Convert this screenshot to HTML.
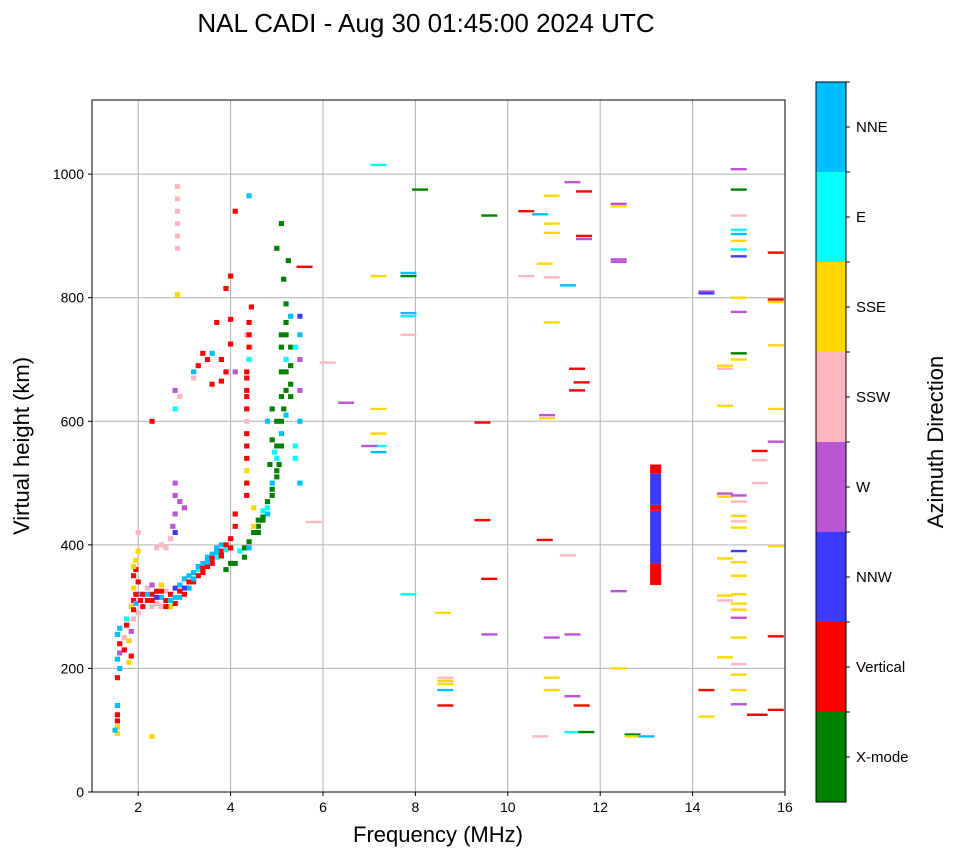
<!DOCTYPE html>
<html><head><meta charset="utf-8"><style>
body{margin:0;background:#fff;}
svg{display:block;font-family:"Liberation Sans","DejaVu Sans",sans-serif;}
</style></head><body>
<svg id="chart" width="958" height="857" viewBox="0 0 958 857">
<text x="426" y="32" font-size="26" text-anchor="middle">NAL CADI - Aug 30 01:45:00 2024 UTC</text>
<g id="grid"></g>
<g id="marks"></g>
<rect x="92" y="100" width="693" height="692" fill="none" stroke="#000" stroke-width="1"/>
<g id="axes"></g>
<text x="438" y="842" font-size="22" text-anchor="middle">Frequency (MHz)</text>
<text transform="translate(29,446) rotate(-90)" font-size="22" text-anchor="middle">Virtual height (km)</text>
<g id="cbar"></g>
<text transform="translate(943,442) rotate(-90)" font-size="22" text-anchor="middle">Azimuth Direction</text>
</svg>
<script>
const xTicks=[2,4,6,8,10,12,14,16];
const yTicks=[0,200,400,600,800,1000];
const dirNames=["X-mode","Vertical","NNW","W","SSW","SSE","E","NNE"];
const dirColors=["#008000","#ff0000","#3b3bff","#ba55d3","#ffb6c1","#ffd700","#00ffff","#00bfff"];
// main trace cells [freq, height, dir]
const cells=[[1.55,95,5],[1.55,105,5],[1.55,115,1],[1.55,125,1],[1.55,140,7],[1.5,100,7],[1.55,185,1],[1.6,200,7],[1.55,215,7],[1.6,225,3],[1.6,240,1],[1.55,255,7],[1.6,265,7],[1.7,230,1],[1.7,250,4],[1.75,270,1],[1.75,280,6],[1.8,210,5],[1.8,245,5],[1.85,220,1],[1.85,260,3],[1.85,300,5],[1.9,310,1],[1.9,330,5],[1.9,350,1],[1.95,360,1],[1.95,375,5],[1.9,280,4],[2.0,290,4],[2.0,320,7],[2.0,340,1],[2.0,390,5],[2.0,420,4],[1.9,295,1],[1.95,320,1],[1.95,305,7],[2.05,310,1],[1.9,365,5],
[2.1,300,1],[2.1,320,1],[2.2,310,1],[2.2,330,4],[2.3,300,4],[2.3,320,1],[2.3,335,3],[2.4,305,4],[2.4,325,1],[2.5,300,4],[2.5,315,7],[2.5,335,5],[2.6,310,1],[2.6,325,4],[2.7,300,5],[2.7,320,1],[2.8,305,1],[2.8,330,2],[2.9,315,7],[2.9,335,7],[3.0,320,1],[3.0,345,7],[3.1,330,7],[3.1,340,1],[3.2,340,1],[3.2,355,7],[3.3,350,1],[3.3,360,6],[3.4,355,1],[3.4,370,7],[3.5,365,1],[3.5,380,7],[3.6,370,1],[3.6,385,7],[3.7,380,6],[3.7,395,7],[3.8,390,1],[3.8,400,7],[3.9,360,0],[3.9,400,1],[4.0,370,0],[4.0,410,1],[4.1,430,1],[4.1,450,1],[4.2,390,6],[4.3,395,0],[4.4,405,0],[4.5,420,0],[4.6,430,0],[4.7,440,0],[4.8,460,6],[4.8,450,7],[4.9,480,0],[4.9,500,7],[5.0,520,0],[5.0,540,6],[5.1,560,0],[5.1,580,7],[5.1,600,0],[5.15,620,0],[5.2,650,0],[5.2,680,0],[5.2,700,6],[5.1,720,0],[5.1,740,0],[5.2,760,0],[5.2,790,0],[5.3,640,0],[5.3,720,0],[5.3,770,7],[5.4,720,6],[5.5,770,2],[5.5,740,7],[5.5,700,3],[5.5,650,3],[5.5,600,7],[5.4,540,6],[5.5,500,7],[5.4,560,6],[5.0,880,0],[5.1,920,0],[5.25,860,0],[5.15,830,0],[4.9,570,0],[4.8,600,7],[4.9,620,0],[4.5,460,5],
[2.2,320,7],[2.3,310,1],[2.4,315,2],[2.5,325,1],[2.6,300,1],[2.7,310,7],[2.8,315,7],[2.9,325,1],[3.0,330,2],[3.1,350,7],[3.2,345,7],[3.3,365,7],[3.4,362,1],[3.5,372,7],[3.6,378,1],[3.7,388,7],[3.8,382,1],[3.9,392,6],[4.0,395,1],[4.1,370,0],[4.3,380,0],[4.4,395,7],[4.5,430,5],[4.6,440,0],[4.7,445,0],[4.8,470,0],[4.9,490,0],[5.0,510,0],[5.05,530,0],[5.0,560,0],[5.1,640,0],[5.1,680,0],[5.2,610,7],[5.2,740,0],[5.3,690,0],[5.3,660,0],[5.0,600,0],[4.95,550,6],[4.85,530,0],[4.7,455,6],[4.6,420,0],
[4.35,480,1],[4.35,540,1],[4.35,580,1],[4.35,620,1],[4.35,650,1],[4.35,680,1],[4.4,720,1],[4.4,760,1],[4.45,785,1],[4.35,520,5],[4.35,600,4],[4.4,700,6],[4.35,740,4],[4.35,500,1],[4.35,560,1],[4.35,640,1],[4.35,670,1],[4.4,740,1],
[3.3,690,1],[3.5,700,1],[3.6,660,1],[3.6,710,7],[3.4,710,1],[3.8,700,1],[3.8,665,1],[3.9,680,1],[4.0,765,1],[4.0,835,1],[3.9,815,1],[4.1,940,1],[4.0,725,1],[3.7,760,1],[3.2,680,7],[3.2,670,4],[2.3,600,1],[4.4,965,7],[4.1,680,3],
[2.85,805,5],[2.85,880,4],[2.85,900,4],[2.85,920,4],[2.85,940,4],[2.85,960,4],[2.85,980,4],[2.8,650,3],[2.8,620,6],[2.8,500,3],[2.8,480,3],[2.8,450,3],[2.9,470,3],[2.75,430,3],[2.7,410,4],[2.5,400,4],[2.6,395,4],[2.4,395,4],[2.8,420,2],[3.0,460,3],[2.9,640,4],[2.3,90,5]];
// sparse horizontal echoes [freq, height, dir]
const lines=[[7.2,1015,6],[7.2,835,5],[7.2,620,5],[7.2,580,5],[7.2,560,6],[7.2,550,7],[6.5,630,3],[7.0,560,3],[6.1,695,4],[5.8,437,4],[5.6,850,1],[7.85,840,7],[7.85,835,0],[7.85,775,7],[7.85,770,6],[7.85,740,4],[7.85,320,6],[8.1,975,0],[8.6,290,5],[8.65,185,4],[8.65,180,5],[8.65,175,5],[8.65,165,7],[8.65,140,1],[9.45,598,1],[9.45,440,1],[9.6,345,1],[9.6,255,3],[9.6,933,0],[10.4,940,1],[10.7,935,7],[10.8,408,1],[10.7,90,4],[10.4,835,4],[10.8,855,5],[10.95,965,5],[10.95,920,5],[10.95,905,5],[10.95,833,4],[10.95,760,5],[10.85,610,3],[10.85,605,5],[10.95,250,3],[10.95,185,5],[10.95,165,5],[11.3,820,7],[11.3,383,4],[11.4,987,3],[11.4,255,3],[11.4,155,3],[11.4,97,6],[11.5,685,1],[11.5,650,1],[11.6,663,1],[11.6,140,1],[11.7,97,0],[11.65,972,1],[11.65,900,1],[11.65,895,3],[12.4,952,3],[12.4,948,5],[12.4,862,3],[12.4,858,3],[12.4,325,3],[12.4,200,5],[12.7,93,0],[12.7,90,5],[13.0,90,7],[14.3,810,3],[14.3,807,2],[14.3,165,1],[14.3,122,5],[14.7,690,5],[14.7,685,4],[14.7,625,5],[14.7,483,3],[14.7,478,5],[14.7,378,5],[14.7,318,5],[14.7,310,4],[14.7,218,5],
[15.0,1008,3],[15.0,975,0],[15.0,933,4],[15.0,910,6],[15.0,903,7],[15.0,892,5],[15.0,878,6],[15.0,867,2],[15.0,800,5],[15.0,777,3],[15.0,710,0],[15.0,700,5],[15.0,480,3],[15.0,470,4],[15.0,447,5],[15.0,438,4],[15.0,428,5],[15.0,390,2],[15.0,372,5],[15.0,350,5],[15.0,320,5],[15.0,305,5],[15.0,295,5],[15.0,282,3],[15.0,250,5],[15.0,207,4],[15.0,190,5],[15.0,165,5],[15.0,142,3],[15.45,552,1],[15.45,537,4],[15.45,500,4],[15.45,125,1],[15.35,125,1],[15.8,873,1],[15.8,797,1],[15.8,793,5],[15.8,723,5],[15.8,620,5],[15.8,567,3],[15.8,398,5],[15.8,252,1],[15.8,133,1]];
// vertical column at 13.2 MHz [h0, h1, dir]
const column=[[335,370,1],[370,455,2],[455,465,1],[465,515,2],[515,530,1]];
const columnFreq=13.2;

const NS="http://www.w3.org/2000/svg";
const X0=92,X1=785,Y0=792,Y1=100,FMIN=1,FMAX=16,HMAX=1120;
const xs=f=>X0+(f-FMIN)/(FMAX-FMIN)*(X1-X0);
const ys=h=>Y0-h/HMAX*(Y0-Y1);
function mk(tag,attrs,parent){const e=document.createElementNS(NS,tag);for(const k in attrs)e.setAttribute(k,attrs[k]);parent.appendChild(e);return e;}
const grid=document.getElementById('grid'),axes=document.getElementById('axes'),marks=document.getElementById('marks'),cbar=document.getElementById('cbar');
xTicks.forEach(t=>{const x=xs(t);
 let g=mk('line',{x1:x,x2:x,y1:Y1,y2:Y0,stroke:'#b0b0b0','stroke-width':1},grid);
 
 mk('line',{x1:x,x2:x,y1:Y0,y2:Y0+4,stroke:'#000'},axes);
 let tx=mk('text',{x:x,y:Y0+20,'font-size':14,'text-anchor':'middle'},axes);tx.textContent=t;
 });
yTicks.forEach(t=>{const y=ys(t);
 let g=mk('line',{x1:X0,x2:X1,y1:y,y2:y,stroke:'#b0b0b0','stroke-width':1},grid);
 
 mk('line',{x1:X0-4,x2:X0,y1:y,y2:y,stroke:'#000'},axes);
 let tx=mk('text',{x:X0-8,y:y+5,'font-size':14,'text-anchor':'end'},axes);tx.textContent=t;
 });
cells.forEach(c=>{let r=mk('rect',{x:xs(c[0])-2.6,y:ys(c[1])-2.5,width:5.2,height:5,fill:dirColors[c[2]]},marks);
 });
lines.forEach(c=>{let r=mk('rect',{x:xs(c[0])-8,y:ys(c[1])-1.2,width:16,height:2.4,fill:dirColors[c[2]]},marks);
 });
column.forEach(c=>{let r=mk('rect',{x:xs(columnFreq)-5.5,y:ys(c[1]),width:11,height:ys(c[0])-ys(c[1]),fill:dirColors[c[2]]},marks);
 });
const CX=816,CW=30,CT=82,CB=802,seg=(CB-CT)/dirNames.length;
dirNames.forEach((n,i)=>{const yb=CB-(i+1)*seg;
 let r=mk('rect',{x:CX,y:yb,width:CW,height:seg,fill:dirColors[i]},cbar);
 
 mk('line',{x1:CX+CW,x2:CX+CW+4,y1:yb+seg/2,y2:yb+seg/2,stroke:'#000'},cbar);
 mk('line',{x1:CX+CW,x2:CX+CW+4,y1:yb,y2:yb,stroke:'#000'},cbar);
 let tx=mk('text',{x:CX+CW+10,y:yb+seg/2+5,'font-size':15},cbar);tx.textContent=n;
 });
mk('rect',{x:CX,y:CT,width:CW,height:CB-CT,fill:'none',stroke:'#000'},cbar);
</script>
</body></html>
